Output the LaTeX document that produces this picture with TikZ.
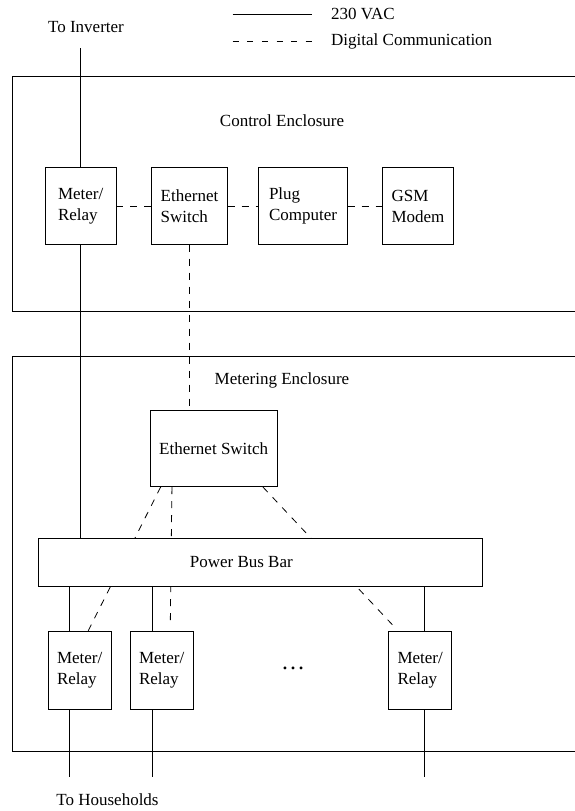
\documentclass[tikz,border=0pt]{standalone}
\usepackage{fontspec}
\setmainfont{Liberation Serif}
\usetikzlibrary{calc}
\begin{document}
\begin{tikzpicture}[x=1pt,y=-1pt,
  every node/.style={font=\fontsize{17}{21}\selectfont},
  box/.style={draw, fill=white, line width=0.8pt, inner sep=0pt, align=left},
  lbl/.style={inner sep=0pt},
  wire/.style={line width=0.8pt},
  comm/.style={line width=0.8pt, dash pattern=on 7pt off 7pt},
  legcomm/.style={line width=0.8pt, dash pattern=on 6pt off 8.6pt},
  encl/.style={line width=0.8pt}]
\useasboundingbox (0,0) rectangle (575,811);
\clip (0,0) rectangle (575,811);

% enclosures
\draw[encl] (12.5,76) rectangle (600,311.7);
\draw[encl] (12.5,356) rectangle (600,751.7);

% legend
\coordinate (la) at (232.7,14);
\coordinate (lb) at (311.7,14);
\coordinate (lc) at (232.7,41);
\coordinate (ld) at (311.7,41);
\draw[wire] (la) -- (lb);
\draw[legcomm] (lc) -- (ld);
\node[lbl, anchor=west] (vac) at (331,14) {230 VAC};
\node[lbl, anchor=west] (dig) at (331,41) {Digital Communication};

% labels
\node[lbl] (inv) at (86,27) {To Inverter};
\node[lbl] (ctl) at (282,121) {Control Enclosure};
\node[lbl] (met) at (282,380) {Metering Enclosure};
\node[lbl] (hh) at (107.5,800) {To Households};

% control enclosure boxes
\node[box, minimum width=70.7pt, minimum height=76.6pt] (mr0) at (80.7,206) {Meter/\\Relay};
\node[box, minimum width=75.6pt, minimum height=76.6pt] (es0) at (189.5,206) {Ethernet\\Switch};
\node[box, minimum width=88.6pt, minimum height=76.6pt] (pc) at (303,206) {Plug\\Computer};
\node[box, minimum width=71.4pt, minimum height=76.6pt] (gsm) at (418,206) {GSM\\Modem};

\draw[comm] (mr0) -- (es0);
\draw[comm] (es0) -- (pc);
\draw[comm] (pc) -- (gsm);

% metering enclosure
\node[box, minimum width=126.7pt, minimum height=76.7pt, align=center] (es1) at (213.7,448.3) {Ethernet Switch};
\draw[comm] (es0.south) -- (es0.south |- es1.north);

\node[box, minimum width=62.7pt, minimum height=77.3pt] (m1) at (79.7,670.3) {Meter/\\Relay};
\node[box, minimum width=62.7pt, minimum height=77.3pt] (m2) at (161.7,670.3) {Meter/\\Relay};
\node[box, minimum width=63pt, minimum height=77.3pt] (m3) at (420.2,670.3) {Meter/\\Relay};
\node[lbl, font=\fontsize{24}{28}\selectfont] (dots) at (293,668) {\ldots};

% dashed links from metering switch to meters (behind bus bar)
\coordinate (d2) at (170.3,624);
\draw[comm] ($(es1.south west)+(10.7,0)$) -- ($(m1.north west)+(40,0)$);
\draw[comm] ($(es1.south west)+(22,0)$) -- (d2);
\draw[comm] ($(es1.south west)+(113,0)$) -- ($(m3.north west)+(7,-3.4)$);

% power bus bar
\node[box, minimum width=444.3pt, minimum height=48pt] (bus) at (260.2,562) {};
\node[lbl] (buslbl) at (241.3,562) {Power Bus Bar};

% 230 VAC wiring
\coordinate (top) at (80,48);
\draw[wire] (top) -- (top |- mr0.north);
\draw[wire] (top |- mr0.south) -- (top |- bus.north);

\coordinate (h1) at (69.7,776.7);
\coordinate (h2) at (152,776.7);
\coordinate (h3) at (424.7,776.7);
\draw[wire] (h1 |- bus.south) -- (h1 |- m1.north);
\draw[wire] (h1 |- m1.south) -- (h1);
\draw[wire] (h2 |- bus.south) -- (h2 |- m2.north);
\draw[wire] (h2 |- m2.south) -- (h2);
\draw[wire] (h3 |- bus.south) -- (h3 |- m3.north);
\draw[wire] (h3 |- m3.south) -- (h3);
\end{tikzpicture}
\end{document}
